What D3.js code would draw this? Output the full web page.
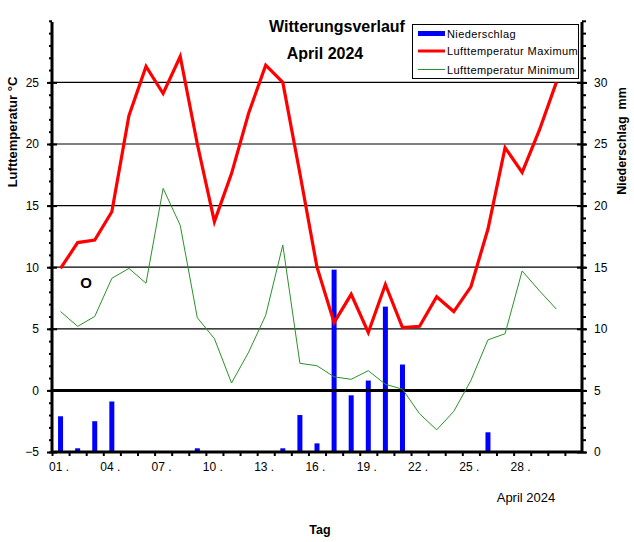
<!DOCTYPE html>
<html><head><meta charset="utf-8">
<script src="https://cdn.jsdelivr.net/npm/d3@7/dist/d3.min.js"></script>
<style>
body{margin:0;background:#fff;}
svg text{font-family:"Liberation Sans",Arial,sans-serif;}
</style></head>
<body><svg id="c" width="634" height="542"></svg>
<script>
const days = d3.range(1, 31);
const tempMax = [9.9,12.0,12.2,14.5,22.3,26.3,24.1,27.1,20.0,13.7,17.6,22.5,26.4,25.0,17.6,10.0,5.5,7.8,4.7,8.6,5.1,5.2,7.6,6.4,8.4,13.1,19.7,17.7,21.1,25.0];
const tempMin = [6.4,5.2,6.0,9.1,9.9,8.7,16.4,13.4,5.9,4.2,0.6,3.1,6.1,11.8,2.2,2.0,1.1,0.9,1.6,0.5,0.1,-1.9,-3.2,-1.7,0.8,4.1,4.6,9.7,8.1,6.6];
const precip = [2.9,0.3,2.5,4.1,0,0,0,0,0.3,0,0,0,0,0.3,3.0,0.7,14.8,4.6,5.8,11.8,7.1,0,0,0,0,1.6,0,0,0,0];
const tempTicks = [-5,0,5,10,15,20,25];
const precipTicks = [0,5,10,15,20,25,30];
const dayLabels = ["01 .","04 .","07 .","10 .","13 .","16 .","19 .","22 .","25 .","28 ."];
const dayLabelPos = [0,3,6,9,12,15,18,21,24,27];

const svg = d3.select("#c");
const L = 52, R = 582, B = 452, T = 20.8;
const x = d3.scaleLinear().domain([0,31]).range([L,R]);
const yT = d3.scaleLinear().domain([-5,30]).range([B,T]);
const yP = d3.scaleLinear().domain([0,35]).range([B,T]);

// gridlines
svg.append("g").selectAll("line").data([5,10,15,20,25]).join("line")
  .attr("x1",L).attr("x2",R).attr("y1",d=>yT(d)).attr("y2",d=>yT(d))
  .attr("stroke","#000").attr("stroke-width",1.2);

// bars
svg.append("g").selectAll("rect").data(days.filter((d,i)=>precip[i]>0)).join("rect")
  .attr("x",d=>x(d-0.5)-2.5).attr("width",5)
  .attr("y",d=>yP(precip[d-1])).attr("height",d=>B-yP(precip[d-1]))
  .attr("fill","#0000ff");

// zero line
svg.append("line").attr("x1",L).attr("x2",R).attr("y1",yT(0)).attr("y2",yT(0))
  .attr("stroke","#000").attr("stroke-width",3);

// lines
const lineGen = d3.line().x((d,i)=>x(i+0.5)).y(d=>yT(d));
svg.append("path").datum(tempMin).attr("d",lineGen).attr("fill","none")
  .attr("stroke","#2a922a").attr("stroke-width",1);
svg.append("path").datum(tempMax).attr("d",lineGen).attr("fill","none")
  .attr("stroke","#ff0000").attr("stroke-width",3.2).attr("stroke-linejoin","miter");

// left axis
const gl = svg.append("g").attr("transform",`translate(${L},0)`);
gl.call(d3.axisLeft(yT).tickValues(d3.range(-5,31,1)).tickSize(3).tickFormat(""));
gl.append("g").call(d3.axisLeft(yT).tickValues(tempTicks).tickSize(5).tickPadding(8).tickFormat(d3.format("d")));
gl.append("g").call(d3.axisRight(yT).tickValues(tempTicks).tickSize(5).tickFormat(""));
gl.selectAll(".domain").remove();
gl.selectAll("line").attr("stroke","#000").attr("stroke-width",2);
gl.selectAll("text").attr("font-size",12).attr("fill","#000");
gl.append("line").attr("x1",0).attr("x2",0).attr("y1",22).attr("y2",B+1).attr("stroke","#000").attr("stroke-width",3);

// right axis
const gr = svg.append("g").attr("transform",`translate(${R},0)`);
gr.call(d3.axisRight(yP).tickValues(d3.range(0,36,1)).tickSize(4).tickFormat(""));
gr.append("g").call(d3.axisRight(yP).tickValues(precipTicks).tickSize(5).tickPadding(7).tickFormat(d3.format("d")));
gr.append("g").call(d3.axisLeft(yP).tickValues(precipTicks).tickSize(5).tickFormat(""));
gr.selectAll(".domain").remove();
gr.selectAll("line").attr("stroke","#000").attr("stroke-width",2);
gr.selectAll("text").attr("font-size",12).attr("fill","#000");
gr.append("line").attr("x1",0).attr("x2",0).attr("y1",22).attr("y2",B+1).attr("stroke","#000").attr("stroke-width",3);

// bottom axis
const gb = svg.append("g").attr("transform",`translate(0,${B})`);
gb.call(d3.axisBottom(x).tickValues(d3.range(0,31,1)).tickSize(4).tickFormat(""));
gb.selectAll(".domain").remove();
gb.selectAll("line").attr("stroke","#000").attr("stroke-width",2);
gb.append("line").attr("x1",L).attr("x2",R).attr("y1",0).attr("y2",0).attr("stroke","#000").attr("stroke-width",3);
gb.selectAll("text.lab").data(dayLabelPos).join("text").attr("class","lab")
  .attr("text-anchor","start")
  .attr("x",d=>x(d)-3).attr("y",19).attr("font-size",12).attr("fill","#000")
  .style("white-space","pre").text((d,i)=>dayLabels[i]);

// titles
svg.append("text").attr("x",337).attr("y",31.5).attr("text-anchor","middle")
  .attr("font-size",16).attr("font-weight","bold").text("Witterungsverlauf");
svg.append("text").attr("x",325).attr("y",58.5).attr("text-anchor","middle")
  .attr("font-size",16).attr("font-weight","bold").text("April 2024");
svg.append("text").attr("transform","translate(17,132) rotate(-90)").attr("text-anchor","middle")
  .attr("font-size",13).attr("font-weight","bold").text("Lufttemperatur °C");
svg.append("text").attr("transform","translate(626,141) rotate(-90)").attr("text-anchor","middle")
  .attr("font-size",12.5).attr("font-weight","bold").style("white-space","pre").text("Niederschlag  mm");
svg.append("text").attr("x",526).attr("y",502).attr("text-anchor","middle")
  .attr("font-size",13).text("April 2024");
svg.append("text").attr("x",320).attr("y",534).attr("text-anchor","middle")
  .attr("font-size",12.5).attr("font-weight","bold").text("Tag");
svg.append("text").attr("x",86).attr("y",288).attr("text-anchor","middle")
  .attr("font-size",15).attr("font-weight","bold").text("O");

// legend
const lg = svg.append("g");
lg.append("rect").attr("x",412.5).attr("y",24.5).attr("width",166).attr("height",54)
  .attr("fill","#fff").attr("stroke","#000").attr("stroke-width",1);
const leg = [["Niederschlag","#0000ff",5,33.5],["Lufttemperatur Maximum","#ff0000",3,51],["Lufttemperatur Minimum","#2a922a",1,69.5]];
leg.forEach(([t,c,w,yy])=>{
  lg.append("line").attr("x1",418).attr("x2",445).attr("y1",yy).attr("y2",yy).attr("stroke",c).attr("stroke-width",w);
  lg.append("text").attr("x",447).attr("y",yy+4).attr("font-size",11).attr("letter-spacing",0.4).text(t);
});
</script></body></html>
